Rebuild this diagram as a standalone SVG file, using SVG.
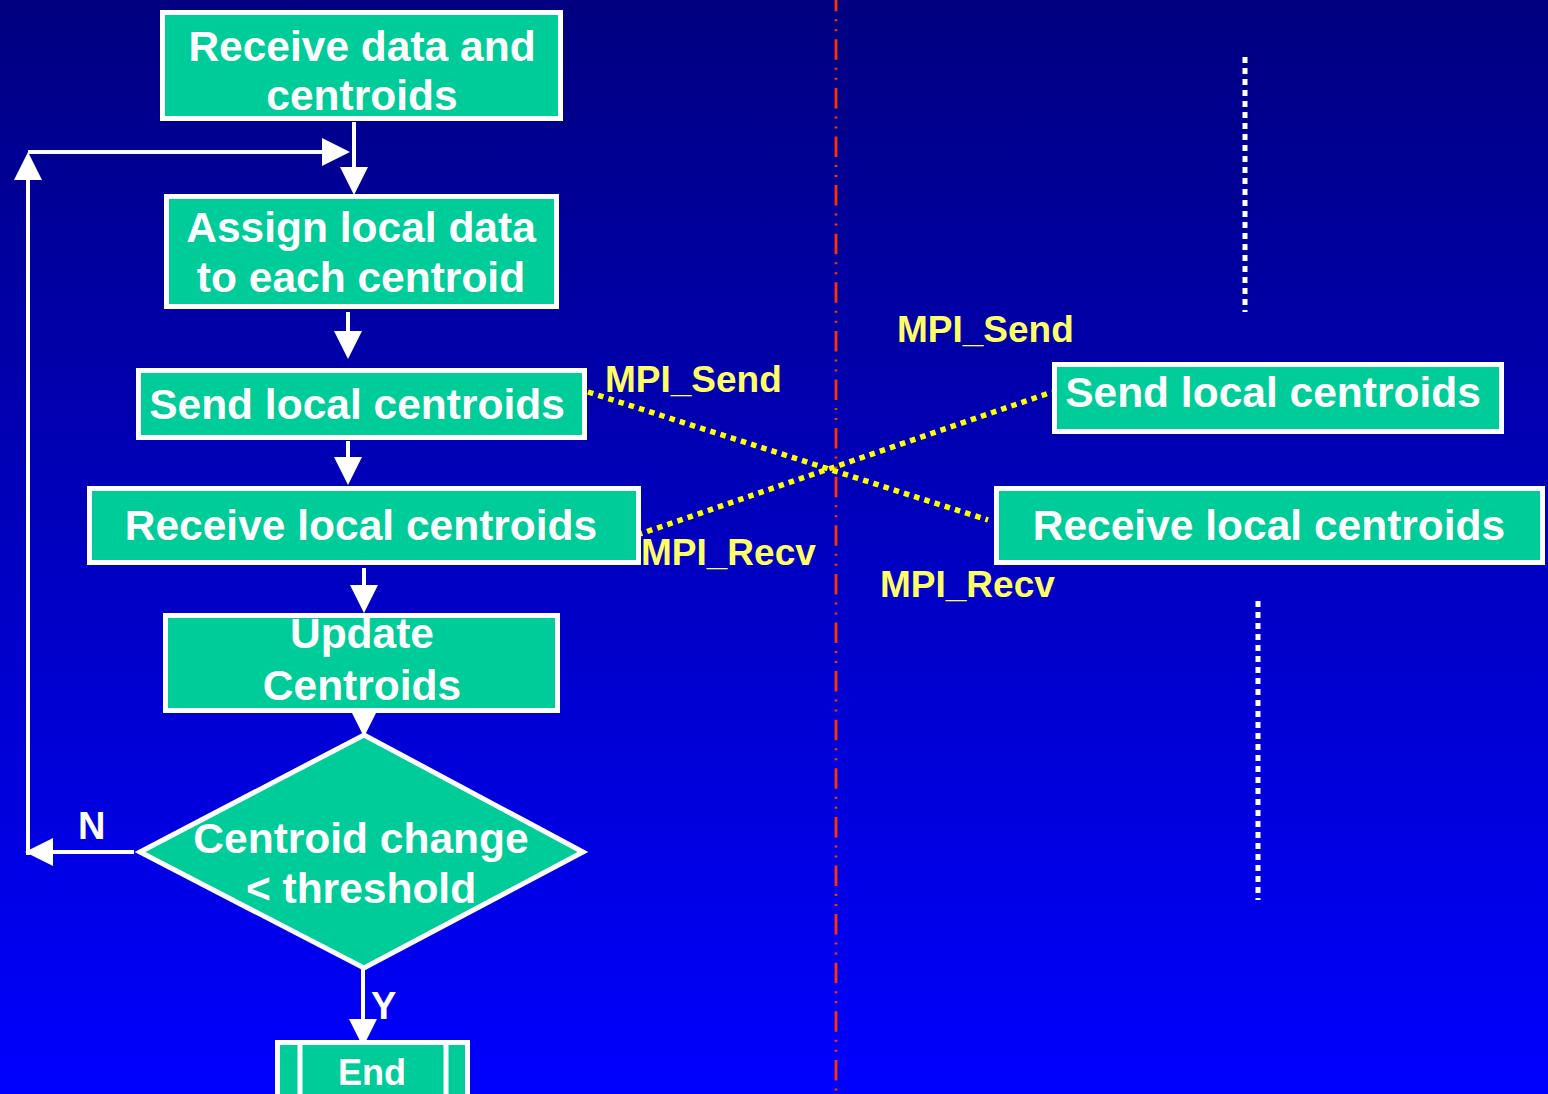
<svg xmlns="http://www.w3.org/2000/svg" width="1548" height="1094" viewBox="0 0 1548 1094">
<defs>
<linearGradient id="bg" x1="0" y1="0" x2="0" y2="1">
<stop offset="0" stop-color="#000080"/>
<stop offset="1" stop-color="#0000FF"/>
</linearGradient>
<marker id="ah" markerUnits="userSpaceOnUse" markerWidth="28" markerHeight="28" refX="18" refY="14" orient="auto" overflow="visible">
<path d="M0,0 L28,14 L0,28 Z" fill="#FFFFFF"/>
</marker>
<style>
.box{fill:#00CC99;stroke:#FFFFFF;stroke-width:5}
.t{font-family:"Liberation Sans",Arial,sans-serif;font-weight:bold;font-size:42.5px;fill:#FFFFFF;text-anchor:middle}
.lbl{font-family:"Liberation Sans",Arial,sans-serif;font-weight:bold;font-size:37px;fill:#FFFF66}
.yn{font-family:"Liberation Sans",Arial,sans-serif;font-weight:bold;font-size:38px;fill:#FFFFFF}
.arr{fill:none;stroke:#FFFFFF;stroke-width:4;marker-end:url(#ah)}
.msg{fill:none;stroke:#FFFF00;stroke-width:5.5;stroke-dasharray:5.5 5.2}
.wdots{fill:none;stroke:#FFFFFF;stroke-width:5;stroke-dasharray:6 5}
</style>
</defs>
<rect x="0" y="0" width="1548" height="1094" fill="url(#bg)"/>
<line x1="836" y1="0" x2="836" y2="1094" stroke="#FF3300" stroke-width="2.8" stroke-dasharray="20.5 8 2 8 2 8.1" stroke-dashoffset="-39.3"/>
<g id="dots">
<line class="wdots" x1="1245" y1="57" x2="1245" y2="312"/>
<line class="wdots" x1="1258" y1="601" x2="1258" y2="900"/>
</g>
<g id="connectors">
<path class="arr" d="M354,122 L354,185"/>
<path class="arr" d="M28,855 L28,162"/>
<path class="arr" d="M28,152 L340,152"/>
<path class="arr" d="M134,852 L35,852"/>
<path class="arr" d="M348,312 L348,349"/>
<path class="arr" d="M348,441 L348,475"/>
<path class="arr" d="M364,568 L364,603"/>
<path class="arr" d="M364,713 L364,727"/>
<path class="arr" d="M363,968 L363,1037"/>
<path class="msg" d="M588,392 L988,520"/>
<path class="msg" d="M637,535 L1052,392"/>
</g>
<g id="n1">
<rect class="box" x="162.5" y="12.5" width="398" height="106"/>
<text class="t" x="362" y="61">Receive data and</text>
<text class="t" x="362" y="110">centroids</text>
</g>
<g id="n2">
<rect class="box" x="166.5" y="196.5" width="390" height="110"/>
<text class="t" x="361" y="242">Assign local data</text>
<text class="t" x="361" y="292">to each centroid</text>
</g>
<g id="n3">
<rect class="box" x="138.5" y="370.5" width="446" height="67"/>
<text class="t" x="357" y="419">Send local centroids</text>
</g>
<g id="n4">
<rect class="box" x="89.5" y="488.5" width="549" height="74"/>
<text class="t" x="361" y="540">Receive local centroids</text>
</g>
<g id="n5">
<rect class="box" x="165.5" y="615.5" width="392" height="95"/>
<text class="t" x="362" y="648">Update</text>
<text class="t" x="362" y="700">Centroids</text>
</g>
<g id="n6">
<polygon class="box" points="364,735 583,852 364,968 140,852"/>
<text class="t" x="361" y="853">Centroid change</text>
<text class="t" x="361" y="903">&lt; threshold</text>
</g>
<g id="n7">
<rect class="box" x="277.5" y="1042.5" width="190" height="60"/>
<line x1="300" y1="1042" x2="300" y2="1094" stroke="#FFFFFF" stroke-width="5"/>
<line x1="446" y1="1042" x2="446" y2="1094" stroke="#FFFFFF" stroke-width="5"/>
<text class="t" x="372" y="1085" style="font-size:36px">End</text>
</g>
<g id="n8">
<rect class="box" x="1054.5" y="364.5" width="447" height="67"/>
<text class="t" x="1273" y="407">Send local centroids</text>
</g>
<g id="n9">
<rect class="box" x="996.5" y="488.5" width="546" height="74"/>
<text class="t" x="1269" y="540">Receive local centroids</text>
</g>
<g id="labels">
<text class="yn" x="78" y="839">N</text>
<text class="yn" x="371" y="1019">Y</text>
<text class="lbl" x="605" y="392">MPI_Send</text>
<text class="lbl" x="641" y="565">MPI_Recv</text>
<text class="lbl" x="897" y="342">MPI_Send</text>
<text class="lbl" x="880" y="597">MPI_Recv</text>
</g>
</svg>
